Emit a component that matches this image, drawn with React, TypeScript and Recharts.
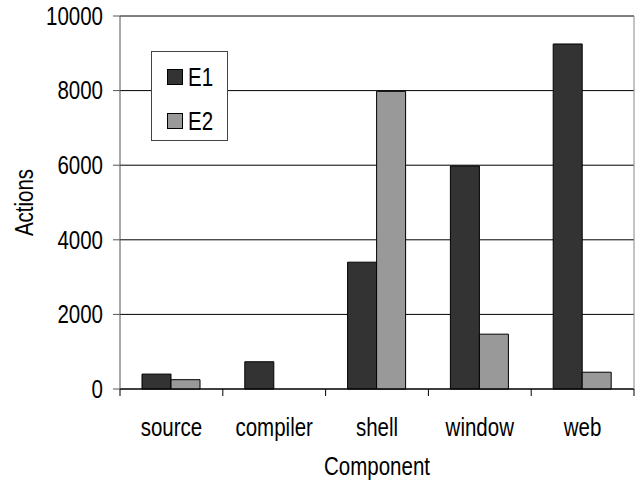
import React from "react"
import { BarChart, Bar, XAxis, YAxis, CartesianGrid, Legend } from "recharts"

const components = ["source", "compiler", "shell", "window", "web"]
const e1 = [400, 730, 3400, 5980, 9250]
const e2 = [250, 0, 7980, 1470, 450]
const yTicks = [0, 2000, 4000, 6000, 8000, 10000]

const font = "'Liberation Sans', Arial, sans-serif"
const fontSize = 25
// the text is set in a condensed face; squeeze the regular one to match
const squeeze = 0.82

const NarrowText = ({ x, y, rotate = 0, anchor = "middle", dy = "0", children }: any) => (
    <text
        transform={`translate(${x},${y}) rotate(${rotate}) scale(${squeeze},1)`}
        textAnchor={anchor}
        dy={dy}
        fontSize={fontSize}
        fontFamily={font}
        fill="#000"
    >
        {children}
    </text>
)

// category labels, with tick marks on the boundaries between groups
const CategoryTick = (props: any) => {
    const { x, y, payload, index, visibleTicksCount } = props
    const half = payload.offset || 0
    const top = y - 22 - 7
    return (
        <g>
            <line x1={x - half} x2={x - half} y1={top} y2={top + 7} stroke="#000" />
            {index === visibleTicksCount - 1 && (
                <line x1={x + half} x2={x + half} y1={top} y2={top + 7} stroke="#000" />
            )}
            <NarrowText x={x} y={y} dy="0.71em">
                {payload.value}
            </NarrowText>
        </g>
    )
}

const ValueTick = (props: any) => (
    <NarrowText x={props.x} y={props.y} anchor="end" dy="0.355em">
        {props.payload.value}
    </NarrowText>
)

const LegendBox = (props: any) => (
    <div
        style={{
            width: 75,
            height: 88,
            border: "1px solid #444",
            background: "#fff",
            fontFamily: font,
            fontSize: fontSize,
            position: "relative",
        }}
    >
        {props.payload.map((p: any, i: number) => (
            <div
                key={p.value}
                style={{ position: "absolute", left: 15, top: 12 + i * 44, height: 26, display: "flex", alignItems: "center" }}
            >
                <span style={{ width: 14, height: 14, background: p.color, border: "1px solid #000", marginRight: 5 }} />
                <span style={{ lineHeight: "26px", display: "inline-block", transform: `scaleX(${squeeze})`, transformOrigin: "left center" }}>
                    {p.value}
                </span>
            </div>
        ))}
    </div>
)

export default function App() {
    return (
        <div style={{ position: "absolute", left: 0, top: 0, background: "#fff" }}>
            <BarChart
                width={637}
                height={480}
                data={data()}
                margin={{ top: 16, right: 0, bottom: 0, left: 0 }}
                barCategoryGap={22}
                barGap={0}
            >
                <CartesianGrid vertical={false} stroke="#000" />
                <XAxis
                    dataKey="name"
                    height={91}
                    stroke="#000"
                    tickLine={false}
                    tickSize={7}
                    tickMargin={22}
                    tick={<CategoryTick />}
                    interval={0}
                    label={{
                        content: (p: any) => {
                            const vb = p.viewBox
                            return (
                                <NarrowText x={vb.x + vb.width / 2} y={vb.y + vb.height - 5}>
                                    Component
                                </NarrowText>
                            )
                        },
                    }}
                />
                <YAxis
                    width={120}
                    domain={[0, 10000]}
                    ticks={yTicks}
                    stroke="#555"
                    tickSize={7}
                    tickMargin={10}
                    tick={<ValueTick />}
                    label={{
                        content: (p: any) => {
                            const vb = p.viewBox
                            return (
                                <NarrowText x={33} y={vb.y + vb.height / 2} rotate={-90}>
                                    Actions
                                </NarrowText>
                            )
                        },
                    }}
                />
                <YAxis yAxisId="frame" orientation="right" width={3} domain={[0, 10000]} tick={false} tickLine={false} stroke="#888" />
                <Legend
                    layout="horizontal"
                    align="center"
                    verticalAlign="middle"
                    wrapperStyle={{ left: 151, top: 51, width: 77, height: 90 }}
                    content={<LegendBox />}
                />
                <Bar dataKey="E1" fill="#333333" stroke="#000" strokeWidth={1} isAnimationActive={false} />
                <Bar dataKey="E2" fill="#999999" stroke="#000" strokeWidth={1} isAnimationActive={false} />
            </BarChart>
        </div>
    )
}

function data() {
    return components.map((name, i) => ({ name, E1: e1[i], E2: e2[i] }))
}
